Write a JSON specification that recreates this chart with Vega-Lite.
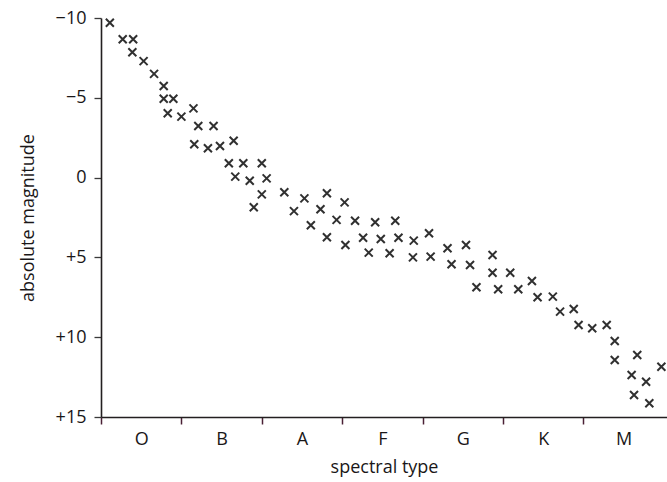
{
  "$schema": "https://vega.github.io/schema/vega-lite/v6.json",
  "width": 566,
  "height": 399,
  "autosize": "none",
  "padding": {"left": 101, "top": 18, "right": 0, "bottom": 65},
  "background": "white",
  "config": {
    "view": {"stroke": null},
    "font": "Open Sans",
    "axis": {"grid": false, "domainColor": "#231f20", "domainWidth": 1.6, "labelColor": "#1a1718", "titleColor": "#1a1718", "labelFont": "Open Sans", "titleFont": "Open Sans", "titleFontWeight": "normal"}
  },
  "data": {
    "values": [
      {"spectral": 0.11, "magnitude": -9.7},
      {"spectral": 0.27, "magnitude": -8.67},
      {"spectral": 0.40, "magnitude": -8.67},
      {"spectral": 0.39, "magnitude": -7.85},
      {"spectral": 0.53, "magnitude": -7.3},
      {"spectral": 0.66, "magnitude": -6.5},
      {"spectral": 0.78, "magnitude": -5.74},
      {"spectral": 0.78, "magnitude": -4.94},
      {"spectral": 0.90, "magnitude": -4.94},
      {"spectral": 0.83, "magnitude": -4.03},
      {"spectral": 1.00, "magnitude": -3.82},
      {"spectral": 1.15, "magnitude": -4.34},
      {"spectral": 1.21, "magnitude": -3.23},
      {"spectral": 1.40, "magnitude": -3.23},
      {"spectral": 1.16, "magnitude": -2.09},
      {"spectral": 1.33, "magnitude": -1.84},
      {"spectral": 1.48, "magnitude": -1.98},
      {"spectral": 1.65, "magnitude": -2.31},
      {"spectral": 1.59, "magnitude": -0.9},
      {"spectral": 1.77, "magnitude": -0.9},
      {"spectral": 2.00, "magnitude": -0.9},
      {"spectral": 1.67, "magnitude": -0.06},
      {"spectral": 1.85, "magnitude": 0.2},
      {"spectral": 2.06, "magnitude": 0.05},
      {"spectral": 2.00, "magnitude": 1.05},
      {"spectral": 1.90, "magnitude": 1.86},
      {"spectral": 2.28, "magnitude": 0.92},
      {"spectral": 2.40, "magnitude": 2.1},
      {"spectral": 2.53, "magnitude": 1.3},
      {"spectral": 2.61, "magnitude": 2.99},
      {"spectral": 2.73, "magnitude": 1.98},
      {"spectral": 2.81, "magnitude": 0.98},
      {"spectral": 2.93, "magnitude": 2.65},
      {"spectral": 2.81, "magnitude": 3.74},
      {"spectral": 3.03, "magnitude": 1.55},
      {"spectral": 3.16, "magnitude": 2.7},
      {"spectral": 3.41, "magnitude": 2.8},
      {"spectral": 3.66, "magnitude": 2.7},
      {"spectral": 3.04, "magnitude": 4.22},
      {"spectral": 3.26, "magnitude": 3.77},
      {"spectral": 3.48, "magnitude": 3.85},
      {"spectral": 3.70, "magnitude": 3.77},
      {"spectral": 3.89, "magnitude": 3.95},
      {"spectral": 4.08, "magnitude": 3.49},
      {"spectral": 3.33, "magnitude": 4.7},
      {"spectral": 3.59, "magnitude": 4.74},
      {"spectral": 3.88, "magnitude": 5.0},
      {"spectral": 4.10, "magnitude": 4.95},
      {"spectral": 4.31, "magnitude": 4.43},
      {"spectral": 4.54, "magnitude": 4.22},
      {"spectral": 4.36, "magnitude": 5.43},
      {"spectral": 4.59, "magnitude": 5.48},
      {"spectral": 4.87, "magnitude": 4.85},
      {"spectral": 4.87, "magnitude": 5.96},
      {"spectral": 5.09, "magnitude": 5.96},
      {"spectral": 4.67, "magnitude": 6.87},
      {"spectral": 4.94, "magnitude": 7.0},
      {"spectral": 5.19, "magnitude": 7.0},
      {"spectral": 5.36, "magnitude": 6.48},
      {"spectral": 5.43, "magnitude": 7.5},
      {"spectral": 5.62, "magnitude": 7.46},
      {"spectral": 5.71, "magnitude": 8.4},
      {"spectral": 5.88, "magnitude": 8.23},
      {"spectral": 5.94, "magnitude": 9.24},
      {"spectral": 6.11, "magnitude": 9.44},
      {"spectral": 6.29, "magnitude": 9.24},
      {"spectral": 6.39, "magnitude": 10.24},
      {"spectral": 6.39, "magnitude": 11.43},
      {"spectral": 6.67, "magnitude": 11.12},
      {"spectral": 6.97, "magnitude": 11.85},
      {"spectral": 6.60, "magnitude": 12.37},
      {"spectral": 6.78, "magnitude": 12.79},
      {"spectral": 6.63, "magnitude": 13.62},
      {"spectral": 6.82, "magnitude": 14.14}
    ]
  },
  "mark": {
    "type": "point",
    "shape": "M-1,-1L1,1M-1,1L1,-1",
    "filled": false,
    "size": 64,
    "strokeWidth": 2,
    "color": "#303030",
    "opacity": 1,
    "clip": false
  },
  "encoding": {
    "x": {
      "field": "spectral",
      "type": "quantitative",
      "scale": {"domain": [0, 7.04], "nice": false, "zero": false},
      "axis": {
        "title": "spectral type",
        "titleFontSize": 18,
        "titleY": 55,
        "titleBaseline": "alphabetic",
        "values": [0, 0.5, 1, 1.5, 2, 2.5, 3, 3.5, 4, 4.5, 5, 5.5, 6, 6.5],
        "labelExpr": "datum.value % 1 === 0 ? '' : ['O','B','A','F','G','K','M'][floor(datum.value)]",
        "labelFontSize": 18,
        "labelFlush": false,
        "labelOverlap": false,
        "labelPadding": 6,
        "tickSize": 7,
        "tickWidth": 1.5,
        "tickColor": "#4a2035",
        "tickOpacity": {"condition": {"test": "datum.value % 1 !== 0", "value": 0}, "value": 1}
      }
    },
    "y": {
      "field": "magnitude",
      "type": "quantitative",
      "scale": {"domain": [-10, 15], "reverse": true, "nice": false, "zero": false},
      "axis": {
        "title": "absolute magnitude",
        "titleFontSize": 18,
        "titleX": -68,
        "titleBaseline": "alphabetic",
        "values": [-10, -5, 0, 5, 10, 15],
        "labelExpr": "datum.value > 0 ? '+' + datum.label : datum.label",
        "labelFontSize": 18,
        "labelPadding": 8,
        "labelFlush": false,
        "tickSize": 7,
        "tickWidth": 1.3,
        "tickColor": "#3a3a3a"
      }
    }
  }
}
